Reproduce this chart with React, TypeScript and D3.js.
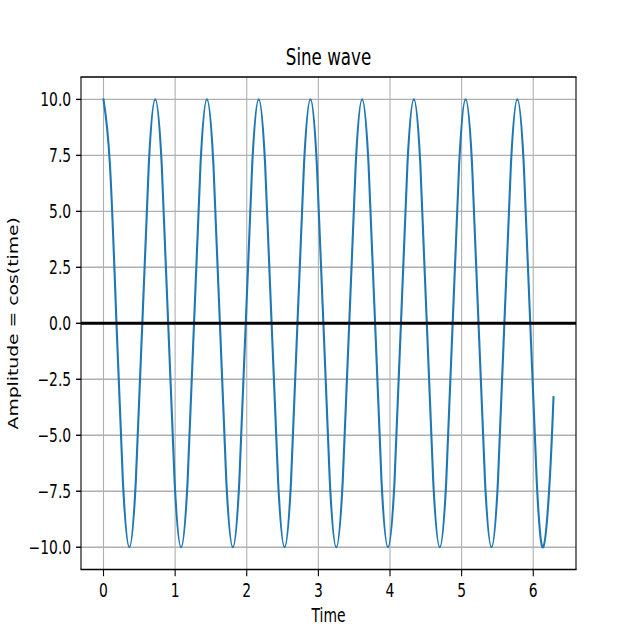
import React from "react";
import * as d3 from "d3";

const times: number[] = [
  0, 0.090, 0.181, 0.271, 0.361, 0.451, 0.542, 0.632,
  0.722, 0.813, 0.903, 0.993, 1.083, 1.174, 1.264, 1.354,
  1.444, 1.535, 1.625, 1.715, 1.806, 1.896, 1.986, 2.076,
  2.167, 2.257, 2.347, 2.438, 2.528, 2.618, 2.708, 2.799,
  2.889, 2.979, 3.070, 3.160, 3.250, 3.340, 3.431, 3.521,
  3.611, 3.701, 3.792, 3.882, 3.972, 4.063, 4.153, 4.243,
  4.333, 4.424, 4.514, 4.604, 4.695, 4.785, 4.875, 4.965,
  5.056, 5.146, 5.236, 5.327, 5.417, 5.507, 5.597, 5.688,
  5.778, 5.868, 5.958, 6.049, 6.139, 6.229, 6.283,
];
const amplitudes: number[] = [
  10, 7.07, 0, -7.07, -10, -7.07, 0, 7.07,
  10, 7.07, 0, -7.07, -10, -7.07, 0, 7.07,
  10, 7.07, 0, -7.07, -10, -7.07, 0, 7.07,
  10, 7.07, 0, -7.07, -10, -7.07, 0, 7.07,
  10, 7.07, 0, -7.07, -10, -7.07, 0, 7.07,
  10, 7.07, 0, -7.07, -10, -7.07, 0, 7.07,
  10, 7.07, 0, -7.07, -10, -7.07, 0, 7.07,
  10, 7.07, 0, -7.07, -10, -7.07, 0, 7.07,
  10, 7.07, 0, -7.07, -10, -7.07, -3.3,
];
const xTicks: number[] = [0, 1, 2, 3, 4, 5, 6];
const yTicks: number[] = [-10, -7.5, -5, -2.5, 0, 2.5, 5, 7.5, 10];
const title = "Sine wave";
const xLabel = "Time";
const yLabel = "Amplitude = cos(time)";

const W = 640;
const H = 640;
const L = 81;
const R = 576;
const T = 77;
const B = 569.6;
const S = 1.35; // vertical text stretch
const FONT = "DejaVu Sans, sans-serif";

export default function App() {
  const x = d3.scaleLinear().domain([-0.3142, 6.597]).range([L, R]);
  const y = d3.scaleLinear().domain([-11, 11]).range([B, T]);
  const pts: [number, number][] = times.map((t, i) => [t, amplitudes[i]]);
  const line = d3
    .line<[number, number]>()
    .x((d) => x(d[0]))
    .y((d) => y(d[1]))
    .curve(d3.curveNatural);
  const fmtY = (v: number) => (v < 0 ? "\u2212" : "") + Math.abs(v).toFixed(1);

  return (
    <svg
      width={W}
      height={H}
      style={{ position: "absolute", left: 0, top: 0, background: "#fff" }}
      fontFamily={FONT}
    >
      <rect x={0} y={0} width={W} height={H} fill="#fff" />
      <defs>
        <clipPath id="plotclip">
          <rect x={L} y={T} width={R - L} height={B - T} />
        </clipPath>
      </defs>
      {/* grid */}
      {xTicks.map((t) => (
        <line key={"gx" + t} x1={x(t)} x2={x(t)} y1={T} y2={B} stroke="#b0b0b0" strokeWidth={1.1} />
      ))}
      {yTicks.map((t) => (
        <line key={"gy" + t} x1={L} x2={R} y1={y(t)} y2={y(t)} stroke="#b0b0b0" strokeWidth={1.4} />
      ))}
      {/* curve */}
      <path
        d={line(pts) || ""}
        fill="none"
        stroke="#1f77b4"
        strokeWidth={2.1}
        strokeLinejoin="round"
        strokeLinecap="square"
        clipPath="url(#plotclip)"
      />
      {/* zero line */}
      <line x1={L} x2={R} y1={y(0)} y2={y(0)} stroke="#000" strokeWidth={3} />
      {/* spines */}
      <line x1={L} x2={L} y1={T} y2={B} stroke="#000" strokeWidth={1.1} />
      <line x1={R} x2={R} y1={T} y2={B} stroke="#000" strokeWidth={1.1} />
      <line x1={L - 0.5} x2={R + 0.5} y1={T} y2={T} stroke="#000" strokeWidth={1.5} />
      <line x1={L - 0.5} x2={R + 0.5} y1={B} y2={B} stroke="#000" strokeWidth={1.5} />
      {/* x ticks */}
      {xTicks.map((t) => (
        <g key={"xt" + t}>
          <line x1={x(t)} x2={x(t)} y1={B} y2={B + 4.9 * S} stroke="#000" strokeWidth={1.1} />
          <text
            transform={`translate(${x(t)},${B + 4.9 * S + 4.9 * S}) scale(1,${S})`}
            textAnchor="middle"
            dy="0.76em"
            fontSize={13.9}
            fill="#000"
          >
            {String(t)}
          </text>
        </g>
      ))}
      {/* y ticks */}
      {yTicks.map((t) => (
        <g key={"yt" + t}>
          <line x1={L} x2={L - 4.9} y1={y(t)} y2={y(t)} stroke="#000" strokeWidth={1.4} />
          <text
            transform={`translate(${L - 4.9 - 4.9},${y(t)}) scale(1,${S})`}
            textAnchor="end"
            dy="0.36em"
            fontSize={13.9}
            fill="#000"
          >
            {fmtY(t)}
          </text>
        </g>
      ))}
      {/* title */}
      <text
        transform={`translate(${(L + R) / 2},65) scale(1,${S})`}
        textAnchor="middle"
        fontSize={16.7}
        fill="#000"
      >
        {title}
      </text>
      {/* x label */}
      <text
        transform={`translate(${(L + R) / 2},622) scale(1,${S})`}
        textAnchor="middle"
        fontSize={13.9}
        fill="#000"
      >
        {xLabel}
      </text>
      {/* y label */}
      <text
        transform={`translate(18,${(T + B) / 2}) scale(1,${S}) rotate(-90)`}
        textAnchor="middle"
        fontSize={13.9}
        fill="#000"
      >
        {yLabel}
      </text>
    </svg>
  );
}
